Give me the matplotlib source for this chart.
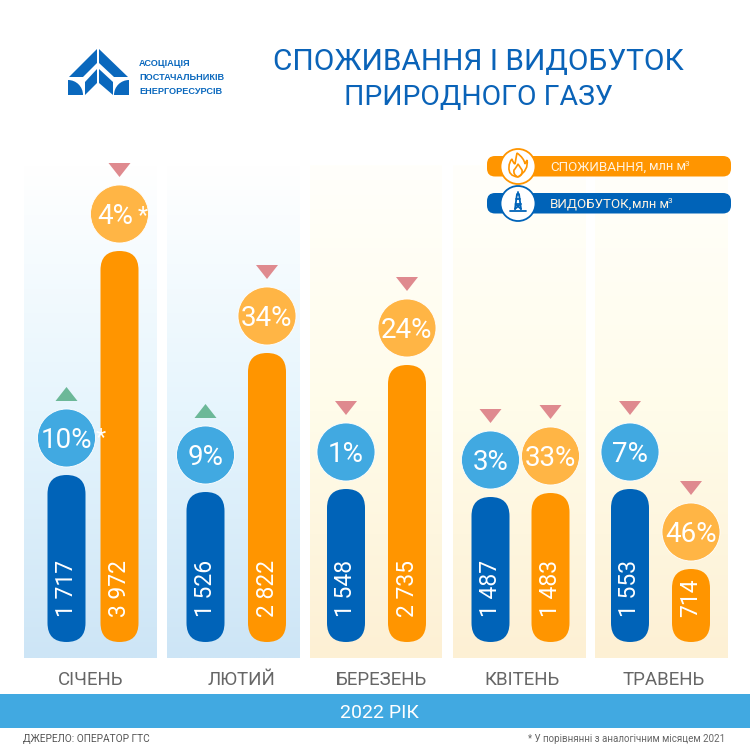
import matplotlib
matplotlib.use('Agg')
import numpy as np
import matplotlib.pyplot as plt
from matplotlib.colors import LinearSegmentedColormap
from matplotlib.patches import Circle, FancyBboxPatch, PathPatch, Polygon, Rectangle, Wedge
from matplotlib.path import Path

plt.rcParams['font.family'] = ['Roboto', 'DejaVu Sans']

# Дані
months = ['СІЧЕНЬ', 'ЛЮТИЙ', 'БЕРЕЗЕНЬ', 'КВІТЕНЬ', 'ТРАВЕНЬ']
production = ['1 717', '1 526', '1 548', '1 487', '1 553']
consumption = ['3 972', '2 822', '2 735', '1 483', '714']
production_drawn = [167, 150, 153, 145, 153]     # довжина стовпчика на картинці
consumption_drawn = [391, 289, 277, 149, 73]
production_pct = ['10%', '9%', '1%', '3%', '7%']
consumption_pct = ['4%', '34%', '24%', '33%', '46%']
production_up = [True, True, False, False, False]
consumption_up = [False, False, False, False, False]

BLUE = '#0063b8'
ORANGE = '#ff9500'
BLUE_C = '#41a9e1'
ORANGE_C = '#ffb545'
GREY = '#666666'
LOGO = '#0a68bd'

# x-центри стовпчиків і панелі
x_prod = [66.5, 205.5, 346, 490.5, 630]
x_cons = [119.5, 267, 407, 550.5, 691]
panels = [(24, 157), (167, 300), (310, 442), (453, 586), (595, 728)]
x_month = [91, 241, 381, 522, 664]


def py(y):
    # піксель картинки (від верху) -> координата осі
    return 642 - y


fig = plt.figure(figsize=(7.5, 7.5), dpi=100)
ax = fig.add_axes([0, 0, 1, 1])

# Панелі з градієнтом
blue_map = LinearSegmentedColormap.from_list('b', ['#ffffff', '#e6f5fd', '#cde5f6'])
cream_map = LinearSegmentedColormap.from_list('c', ['#fffffb', '#fffcea', '#fdf0d4'])
grad = np.linspace(0, 1, 256).reshape(-1, 1)
for i, (x0, x1) in enumerate(panels):
    cmap = blue_map if i < 2 else cream_map
    ax.imshow(grad, cmap=cmap, aspect='auto', extent=(x0, x1, py(658), py(165)), zorder=1)


def draw_bar(x, h, color):
    ax.add_patch(FancyBboxPatch((x - 19, 0), 38, h, boxstyle='round,pad=0,rounding_size=19',
                                fc=color, ec='none', zorder=3))


def draw_badge(x, top, label, color, up, dx=0):
    cy = top + 37
    ax.add_patch(Circle((x, cy), 29, fc=color, ec='white', lw=0.6, zorder=4))
    ax.text(x + dx, cy - 2.5, label, color='white', fontsize=20, ha='center', va='center', zorder=5)
    base = cy + 37
    if up:
        tri = [(x - 11, base), (x + 11, base), (x, base + 14)]
        col = '#6cb898'
    else:
        tri = [(x - 11, base + 14), (x + 11, base + 14), (x, base)]
        col = '#df8a8f'
    ax.add_patch(Polygon(tri, fc=col, ec='none', zorder=4))


for i in range(5):
    draw_bar(x_prod[i], production_drawn[i], BLUE)
    draw_bar(x_cons[i], consumption_drawn[i], ORANGE)
    ax.text(x_prod[i], 25, production[i], color='white', fontsize=16.5, rotation=90,
            ha='center', va='bottom', zorder=5)
    ax.text(x_cons[i], 25, consumption[i], color='white', fontsize=16.5, rotation=90,
            ha='center', va='bottom', zorder=5)
    draw_badge(x_prod[i], production_drawn[i], production_pct[i], BLUE_C, production_up[i])
    draw_badge(x_cons[i], consumption_drawn[i], consumption_pct[i], ORANGE_C, consumption_up[i],
               dx=-4 if i == 0 else 0)
    ax.text(x_month[i], py(680), months[i], color=GREY, fontsize=13.5, ha='center', va='center')

# зірочки біля січня
ax.text(101, py(438), '*', color='white', fontsize=17, ha='center', va='center', zorder=6)
ax.text(143, py(216), '*', color='white', fontsize=17, ha='center', va='center', zorder=6)

# Нижня смуга
ax.add_patch(Rectangle((0, py(728)), 750, 34, fc=BLUE_C, ec='none', zorder=2))
ax.text(379, py(713), '2022 РІК', color='white', fontsize=14, ha='center', va='center', zorder=3)
ax.text(23, py(739), 'ДЖЕРЕЛО: ОПЕРАТОР ГТС', color='#555555', fontsize=7.3, ha='left', va='center')
ax.text(725, py(739), '* У порівнянні з аналогічним місяцем 2021', color='#666666', fontsize=7,
        ha='right', va='center')

# Заголовок
ax.text(478.5, py(62), 'СПОЖИВАННЯ І ВИДОБУТОК', color='#0a63b8', fontsize=21.5, ha='center', va='center')
ax.text(478, py(97), 'ПРИРОДНОГО ГАЗУ', color='#0a63b8', fontsize=20.5, ha='center', va='center')

# Логотип
logo = [
    [(97, 49), (97, 63), (83, 77), (69, 77)],
    [(99, 49), (99, 63), (114, 77), (128, 77)],
    [(97, 69), (97, 83), (85, 95), (85, 82)],
    [(99, 69), (99, 83), (113, 95), (113, 82)],
]
for pts in logo:
    ax.add_patch(Polygon([(x, py(y)) for x, y in pts], fc=LOGO, ec='none', zorder=3))
ax.add_patch(Wedge((68, py(95)), 15, 0, 90, fc=LOGO, ec='none', zorder=3))
ax.add_patch(Wedge((129, py(95)), 15, 90, 180, fc=LOGO, ec='none', zorder=3))
for y, s in zip([63, 77, 91], ['АСОЦІАЦІЯ', 'ПОСТАЧАЛЬНИКІВ', 'ЕНЕРГОРЕСУРСІВ']):
    ax.text(139, py(y), s, color=LOGO, fontsize=6.6, family='Liberation Sans', weight='bold',
            ha='left', va='center')

# Легенда
for y0, col, name, ux in [(156, ORANGE, 'СПОЖИВАННЯ,', 649), (193, BLUE, 'ВИДОБУТОК,', 632)]:
    ax.add_patch(FancyBboxPatch((487, py(y0 + 20.5)), 244, 20.5, boxstyle='round,pad=0,rounding_size=8',
                                fc=col, ec='none', zorder=3))
    ax.add_patch(Circle((518, py(y0 + 10.5)), 17.5, fc='white', ec=col, lw=1.3, zorder=4))
    ax.text(550, py(y0 + 11), name, color='#fff3e0', fontsize=9.6, ha='left', va='center', zorder=5)
    ax.text(ux, py(y0 + 11), 'млн м', color='#fff3e0', fontsize=9.3, ha='left', va='center', zorder=5)
    ax.text(ux + 36, py(y0 + 8), '3', color='#fff3e0', fontsize=6, ha='left', va='center', zorder=5)

# Полум'я
flame = [(518, 177), (508, 176), (509, 167), (509, 162), (512, 159), (513, 163), (515, 164),
         (516, 158), (517, 153), (524, 158), (525, 164), (526, 162), (527, 160), (529, 170), (518, 177)]
codes = [Path.MOVETO] + [Path.CURVE3] * (len(flame) - 1)
ax.add_patch(PathPatch(Path([(x, py(y)) for x, y in flame], codes), fc='none', ec=ORANGE, lw=1.2, zorder=5))
inner = [(518, 177), (513, 175), (514, 170), (516, 168), (518, 164), (520, 167), (522, 170), (523, 175), (518, 177)]
codes = [Path.MOVETO] + [Path.CURVE3] * (len(inner) - 1)
ax.add_patch(PathPatch(Path([(x, py(y)) for x, y in inner], codes), fc='none', ec=ORANGE, lw=1.2, zorder=5))

# Вишка
rig = [[(515, 209), (517, 194), (519, 194), (521, 209)], [(510, 211), (526, 211)], [(515.5, 204), (520.5, 204)],
       [(516, 199), (520, 199)], [(515.5, 204), (521, 209)], [(520.5, 204), (515, 209)], [(518, 192), (518, 195)]]
for seg in rig:
    xs, ys = zip(*seg)
    ax.plot(xs, [py(y) for y in ys], color=BLUE, lw=1.3, zorder=5, solid_capstyle='round')

ax.set_xlim(0, 750)
ax.set_ylim(py(750), py(0))
ax.axis('off')
fig.savefig('out.png', dpi=100, facecolor='white')
